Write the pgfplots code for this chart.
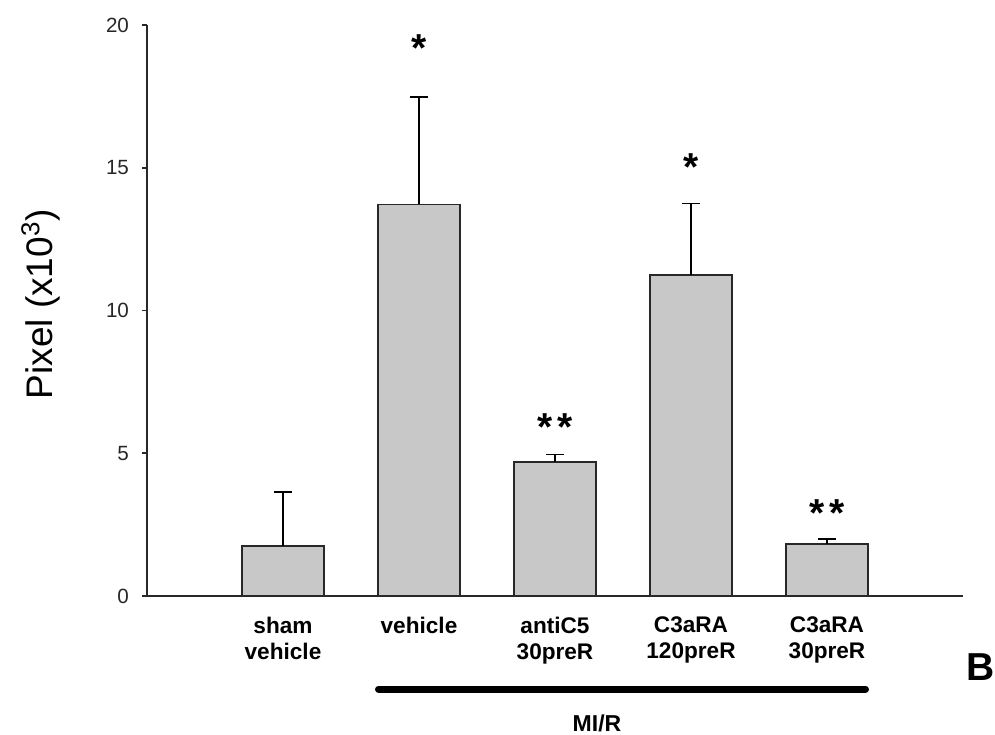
\documentclass[border=0pt]{standalone}
\usepackage{pgfplots}
\pgfplotsset{compat=1.18}
\usepackage{fontspec}
\setmainfont{Liberation Sans}
\definecolor{barfill}{RGB}{200,200,200}
\definecolor{edge}{RGB}{40,40,40}
\begin{document}
\begin{tikzpicture}
\path[use as bounding box] (-73.5pt,-69pt) rectangle (424pt,298pt);
\begin{axis}[
  at={(0,0)}, anchor=south west,
  scale only axis,
  width=408pt, height=285.5pt,
  xmin=0, xmax=6, ymin=0, ymax=20,
  axis lines=left,
  axis line style={-, line width=0.8pt, edge},
  clip=false,
  ytick={0,5,10,15,20},
  xtick={1,2,3,4,5},
  xticklabels={{sham\\vehicle},{vehicle},{antiC5\\30preR},{C3aRA\\120preR},{C3aRA\\30preR}},
  x tick style={draw=none},
  y tick style={line width=0.8pt, edge},
  tick align=outside,
  major tick length=2.5pt,
  /pgf/number format/assume math mode=true,
  yticklabel style={font=\fontsize{10.3}{12}\selectfont, xshift=-3pt, text=black!85},
  xticklabel style={font=\fontsize{11.3}{13}\selectfont\bfseries, align=center, anchor=north, yshift=-4.5pt},
  every axis y label/.style={at={(axis description cs:-0.1164,0.511)}, rotate=90, anchor=base},
  ylabel={\fontsize{18.5}{22}\selectfont Pixel (x10\textsuperscript{3})},
]
\addplot[ybar, bar width=0.6, fill=barfill, draw=edge, line width=0.75pt,
  error bars/.cd, y dir=plus, y explicit,
  error bar style={line width=0.75pt, black},
  error mark options={rotate=90, line width=0.75pt, black, mark size=4.5pt}]
  coordinates {
    (1,1.75) +- (0,1.90)
    (2,13.72) +- (0,3.75)
    (3,4.70) +- (0,0.26)
    (4,11.25) +- (0,2.50)
    (5,1.82) +- (0,0.18)
  };
\addplot[only marks, mark=none, nodes near coords, point meta=explicit symbolic,
  every node near coord/.append style={anchor=base, font=\fontsize{19.5}{22}\selectfont\bfseries, inner sep=0pt}]
  table[meta=label] {
    x y label
    2 18.73 *
    3 5.46 {*\hspace{2.5pt}*}
    4 14.56 *
    5 2.43 {*\hspace{2.5pt}*}
  };
\end{axis}
\draw[line width=3.5pt, line cap=round] (115.75pt,-46.5pt) -- (359.25pt,-46.5pt);
\node[anchor=base, inner sep=0pt, font=\fontsize{11.5}{13}\selectfont\bfseries] at (225pt,-67.5pt) {MI/R};
\node[anchor=base west, inner sep=0pt, font=\fontsize{19.5}{22}\selectfont\bfseries] at (409.5pt,-42pt) {B};
\end{tikzpicture}
\end{document}
